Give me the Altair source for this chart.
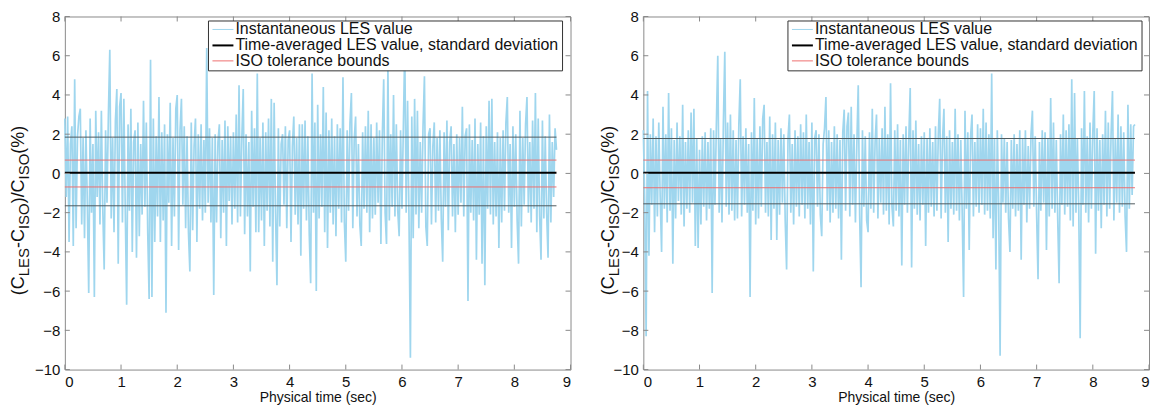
import altair as alt
import pandas as pd

DT = 0.025
W, H = 507, 354

SERIES = ["Instantaneous LES value",
          "Time-averaged LES value, standard deviation",
          "ISO tolerance bounds"]
COLORS = ["#9fd6ee", "#000000", "#ee6f6f"]
WIDTHS = [1.7, 2, 1]
GREY = "#4f5a5e"
FRAME = "#8a8a8a"
FONT = "Liberation Sans"

X_TICKS = list(range(0, 10))
Y_TICKS = list(range(-10, 10, 2))

# instantaneous values, left panel (dt = 0.025 s)
left_vals = [
    2.8, -1.2, 2.9, -3.5, 1.5, 2.4, -3.7, 4.8, -2.8, 1.9,
    2.9, 3.3, -2.6, 1.8, -3.3, 2.2, -1.5, -6.1, 2.8, -2.0,
    1.5, -6.3, 3.2, -1.2, 2.1, -2.6, 3.2, -1.8, -4.9, 2.2,
    -1.5, 3.0, 6.3, -2.3, 1.8, -3.0, 2.7, 4.3, -4.6, 3.4,
    4.1, -2.5, 3.8, -1.8, -6.7, 2.5, -1.9, 3.3, -4.0, 1.6,
    2.2, -4.3, 2.6, -3.2, 1.5, -2.1, 3.7, -1.7, 2.6, -3.0,
    -6.4, 5.8, -6.3, 2.8, -3.5, 1.9, -2.2, 3.9, -3.5, 2.1,
    -2.4, 2.5, -7.1, 2.0, -1.5, 3.6, -3.7, 1.8, -2.2, 3.3,
    4.0, -3.9, 2.2, 3.8, -1.6, 2.4, -2.8, 1.9, -3.0, -5.0,
    2.6, -2.9, 1.4, 2.8, -3.5, 2.0, -1.8, 2.5, -2.4, 1.7,
    -2.0, 6.4, -1.5, 2.3, -2.5, 1.8, -6.2, 2.0, -2.5, 1.6,
    2.5, -3.3, 1.7, -2.0, 2.7, -3.7, 2.4, -1.4, 1.9, -2.6,
    2.1, -1.8, 3.0, -2.5, 4.5, -2.2, 1.8, 4.3, -3.1, 2.0,
    -2.2, 1.6, -5.0, 3.2, -1.7, 2.3, -3.0, 5.1, -3.0, 1.8,
    -2.4, 2.6, -3.7, 2.1, -1.9, 2.8, -2.7, 3.8, -4.5, 3.6,
    -2.0, -5.7, 2.3, -2.7, 1.5, 2.0, -1.6, 2.4, -2.8, 1.7,
    2.2, -3.5, 1.4, 2.9, -2.1, 1.8, -2.6, 2.5, -4.2, 2.5,
    -1.8, 2.7, -2.4, 1.9, -3.1, -5.6, 5.1, -2.0, 2.6, -6.0,
    3.5, -2.3, 2.0, -1.7, 4.4, -3.0, 3.1, -3.8, 2.2, -2.0,
    2.8, -2.6, 1.9, -3.2, 2.5, -1.8, 2.3, -2.5, 4.9, -2.5,
    -4.5, 2.2, -1.9, 2.6, 4.1, -2.8, 1.7, 2.9, -2.2, 1.5,
    -2.6, -3.7, 2.1, -1.8, 2.4, -2.0, 3.2, -3.0, 2.5, -2.3,
    1.8, -2.1, 2.6, -1.5, 2.2, -3.6, 1.9, 4.8, -2.0, -3.6,
    5.5, -2.4, 2.0, -1.7, 4.0, -2.2, 2.5, -1.9, -3.2, 2.2,
    -1.8, 2.4, 6.5, -2.0, 3.7, -2.3, -9.4, 2.9, -3.3, 3.8,
    -2.1, 3.2, -2.8, 1.6, -2.0, 2.4, 4.95, -2.7, -3.7, 2.0,
    2.3, -2.6, 1.4, 2.6, -2.5, 1.8, -1.9, 2.2, -2.3, -4.5,
    2.1, -1.7, 2.7, -2.9, 1.6, 2.4, -2.2, 1.5, -3.0, 2.0,
    -2.1, 1.8, -1.5, 3.4, -2.2, 1.9, 2.3, -6.5, 2.5, -2.0,
    1.7, -2.4, 2.8, -4.4, 1.5, -2.1, 2.6, -4.6, 1.9, -5.7,
    2.4, -1.8, 3.7, -2.1, 3.8, -2.6, 1.6, -2.2, 2.1, -3.8,
    1.8, -2.5, 2.2, -1.9, 2.6, 3.9, -2.0, 1.5, -3.8, 2.4,
    -1.7, 2.0, -2.4, -4.6, 3.2, -2.7, 1.8, -1.6, 2.5, 3.9,
    -2.0, 1.6, -2.5, 2.7, -1.8, 4.1, -3.0, 2.8, -2.2, -4.4,
    2.7, -2.3, 1.9, -2.0, -4.3, 3.0, -2.5, 1.6, -1.2, 2.3, 1.2,
]

# instantaneous values, right panel (dt = 0.025 s)
right_vals = [
    2.2, -1.5, -8.3, 4.2, -4.2, 2.0, -1.6, 2.8, -3.0, 1.9,
    -2.2, 2.6, -1.2, -4.0, 3.4, -1.8, 2.0, -2.5, 4.1, -1.9,
    2.3, -4.6, 1.7, -2.3, 2.6, -1.4, 1.9, -2.1, 3.5, -2.7,
    1.6, -1.8, 2.2, -2.0, 3.1, -1.5, 3.3, -3.7, 1.8, -3.8,
    1.2, -2.6, 1.9, -1.7, 2.1, -2.4, 1.6, -1.8, 2.3, -6.1,
    2.2, -1.6, 2.5, 6.0, -2.0, 1.8, -2.5, 2.6, 6.2, -1.7,
    2.6, -2.1, 3.0, -1.9, 2.2, -2.4, 1.7, -2.3, 2.5, 4.8,
    -2.2, 1.9, -1.6, 2.3, -2.0, 1.5, -6.3, 2.1, -1.9, 3.85,
    -2.6, 1.8, -2.3, 2.4, -1.7, 2.8, 3.5, -2.0, 1.6, -2.2,
    2.9, -3.4, 2.0, -1.8, 2.6, -3.4, 1.7, -2.1, 2.3, -1.5,
    2.0, -2.4, -4.9, 1.8, 3.0, -2.0, 1.5, -2.6, 2.2, -1.7,
    1.9, -2.2, 2.5, -1.6, 2.1, -2.3, 3.0, -1.8, 1.6, -2.6,
    2.6, -5.0, 1.8, 2.2, -1.7, 2.0, -2.1, -3.2, 1.5, 2.3,
    3.9, -1.9, 2.2, -2.5, 1.6, -2.0, 2.4, -1.8, 2.0, -2.3,
    1.7, -4.4, 2.1, 3.25, -1.9, 2.4, 3.1, -2.2, 3.4, -1.6,
    2.0, -2.5, 1.5, 4.5, -2.1, -5.8, 2.2, -1.7, 1.9, -2.4,
    -3.0, 2.1, -1.8, 3.3, -2.0, 1.6, 3.0, -2.3, 1.8, -1.5,
    2.3, -2.1, 3.4, -1.9, 2.0, -2.6, 4.6, -1.7, -2.7, 2.2,
    -1.9, 2.5, -2.2, 1.7, -4.7, 2.0, -1.6, 2.4, -2.0, 1.8,
    4.35, -4.8, 2.2, -1.8, 2.7, -2.1, 1.5, -2.4, 1.9, -1.6,
    2.1, -3.7, 1.8, -2.0, 2.3, -1.7, 1.6, -2.2, 2.4, -1.9,
    2.0, 3.8, -2.3, 1.7, 3.3, -2.0, 1.9, -3.5, 2.2, -1.8,
    1.6, -2.1, 3.3, -1.9, 2.0, -2.4, 1.7, -2.0, -6.3, 3.2,
    -1.8, 2.1, -3.9, 1.9, 3.0, -2.2, 1.6, -1.7, 2.5, -2.0,
    2.3, -1.6, 3.3, -2.1, 2.6, -1.9, 2.0, -2.3, 5.1, -3.3,
    1.8, -4.9, 2.2, -1.7, -9.3, 2.0, -1.5, 1.8, -2.0, 1.6,
    -2.3, -4.0, 1.7, -1.8, 2.0, -2.2, 1.5, -1.9, 2.2, -4.4,
    1.8, -1.6, 2.2, -2.5, 1.4, -1.8, 2.0, 3.2, -1.7, 1.9,
    -2.1, -5.4, 1.6, -1.9, 2.2, -1.5, 2.1, -3.9, 1.8, -2.2,
    3.85, -1.8, 2.6, -2.0, 1.7, -2.3, -5.6, 2.0, -1.6, 3.0,
    -2.1, 2.2, -1.7, 2.5, -2.4, 4.8, -2.7, 4.1, -2.0, 1.8,
    -1.9, -8.4, 2.3, -1.6, 4.2, -2.0, 1.9, -2.5, 2.6, -1.8,
    2.1, 4.2, -4.1, 2.3, -1.9, 1.7, -2.8, 2.0, -1.6, 3.2,
    -2.2, 2.6, -1.8, 2.0, 4.2, -2.4, 1.8, -1.5, 3.0, -2.0,
    2.4, -1.7, 2.1, -2.2, -4.0, 3.5, -1.8, 2.5, -1.1, 2.4, 2.5,
]

# time-averaged value, +/- std-deviation lines, ISO bounds
left_stats = {"mean": 0.03, "sd_hi": 1.85, "sd_lo": -1.65, "iso_hi": 0.68, "iso_lo": -0.69}
right_stats = {"mean": 0.03, "sd_hi": 1.78, "sd_lo": -1.55, "iso_hi": 0.68, "iso_lo": -0.73}

# y-axis title pieces: (text, is_subscript)
YTITLE = [("(C", False), ("LES", True), ("-C", False), ("ISO", True),
          (")/C", False), ("ISO", True), (" (%)", False)]
CHAR_W = {"(": 0.333, "C": 0.722, "-": 0.333, ")": 0.333, "/": 0.278, " ": 0.278,
          "%": 0.889, "L": 0.556, "E": 0.667, "S": 0.667, "I": 0.278, "O": 0.778}
FS_MAIN, FS_SUB = 18, 15
LEG_FS = 16

xs = alt.Scale(domain=[0, 9], nice=False, zero=False)
ys = alt.Scale(domain=[-10, 8], nice=False, zero=False)
xaxis = alt.Axis(values=X_TICKS, title="Physical time (sec)", format="d")
yaxis = alt.Axis(values=Y_TICKS, title=None, format="d")
one = pd.DataFrame({"a": [0]})


def panel(vals, st, title_x, title_center, leg_right):
    t = [round(i * DT, 4) for i in range(len(vals))]
    tend = t[-1]
    sig = pd.DataFrame({"t": t, "v": vals, "series": SERIES[0]})
    hl = pd.DataFrame({"x0": [0.0] * 3, "x1": [tend] * 3,
                       "v": [st["mean"], st["iso_hi"], st["iso_lo"]],
                       "series": [SERIES[1], SERIES[2], SERIES[2]]})
    sd = pd.DataFrame({"x0": [0.0, 0.0], "x1": [tend, tend], "v": [st["sd_hi"], st["sd_lo"]]})

    color = alt.Color("series:N", scale=alt.Scale(domain=SERIES, range=COLORS), legend=None)
    sw = alt.StrokeWidth("series:N", scale=alt.Scale(type="ordinal", domain=SERIES, range=WIDTHS),
                         legend=None)

    X = lambda f: alt.X(f, scale=xs, axis=xaxis)
    Y = lambda f: alt.Y(f, scale=ys, axis=yaxis)

    line = alt.Chart(sig).mark_line().encode(
        x=X("t:Q"), y=Y("v:Q"), color=color, strokeWidth=sw)
    sdr = alt.Chart(sd).mark_rule(color=GREY, strokeWidth=1).encode(
        x=X("x0:Q"), x2="x1", y=Y("v:Q"))
    rules = alt.Chart(hl).mark_rule().encode(
        x=X("x0:Q"), x2="x1", y=Y("v:Q"), color=color, strokeWidth=sw)

    xt = pd.DataFrame({"x": X_TICKS})
    yt = pd.DataFrame({"y": Y_TICKS})
    tb = alt.Chart(xt).mark_rule(color=FRAME).encode(x=X("x:Q"), y=alt.value(H), y2=alt.value(H - 5))
    tt = alt.Chart(xt).mark_rule(color=FRAME).encode(x=X("x:Q"), y=alt.value(0), y2=alt.value(5))
    tl = alt.Chart(yt).mark_rule(color=FRAME).encode(y=Y("y:Q"), x=alt.value(0), x2=alt.value(5))
    tr = alt.Chart(yt).mark_rule(color=FRAME).encode(y=Y("y:Q"), x=alt.value(W), x2=alt.value(W - 5))

    # rotated y-axis title built from pieces (subscripts)
    widths = []
    for txt, sub in YTITLE:
        fs = FS_SUB if sub else FS_MAIN
        widths.append(sum(CHAR_W[c] for c in txt) * fs)
    total = sum(widths)
    pos = title_center + total / 2
    texts = []
    for (txt, sub), w in zip(YTITLE, widths):
        texts.append(alt.Chart(one).mark_text(
            text=txt, angle=270, align="left", baseline="middle",
            font=FONT, fontSize=FS_SUB if sub else FS_MAIN, color="#111111"
        ).encode(x=alt.value(title_x + (5 if sub else 0)), y=alt.value(pos)))
        pos -= w

    # legend box drawn inside the plot, top right
    bx1 = W - leg_right
    bx0 = bx1 - 355
    box = alt.Chart(one).mark_rect(fill="white", stroke="#333333", strokeWidth=1).encode(
        x=alt.value(bx0), x2=alt.value(bx1), y=alt.value(4.5), y2=alt.value(54.5))
    leg = [box]
    rows = [13, 29, 44.5]
    for name, col, wd, ry in zip(SERIES, COLORS, [1, 2, 1], rows):
        leg.append(alt.Chart(one).mark_rule(color=col, strokeWidth=wd).encode(
            x=alt.value(bx0 + 4), x2=alt.value(bx0 + 25), y=alt.value(ry)))
        leg.append(alt.Chart(one).mark_text(
            text=name, align="left", baseline="middle", font=FONT, fontSize=LEG_FS,
            color="#111111").encode(x=alt.value(bx0 + 27), y=alt.value(ry)))

    return alt.layer(line, sdr, rules, tb, tt, tl, tr, *texts, *leg).properties(width=W, height=H)


left = panel(left_vals, left_stats, -46, H / 2 + 15, 8)
right = panel(right_vals, right_stats, -34, H / 2 + 15, 7)

chart = alt.hconcat(left, right, spacing=28).properties(
    padding={"left": 1, "top": 0, "right": 0, "bottom": 0}
).configure_view(stroke=FRAME, strokeWidth=1).configure_axis(
    labelFont=FONT, titleFont=FONT, labelFontSize=15, titleFontSize=14,
    titleFontWeight="normal", labelColor="#111111", titleColor="#111111",
    ticks=False, tickSize=0, domain=False, grid=False, labelPadding=5, titlePadding=1
)

chart.save("out.html", embed_options={"renderer": "svg", "actions": False})
